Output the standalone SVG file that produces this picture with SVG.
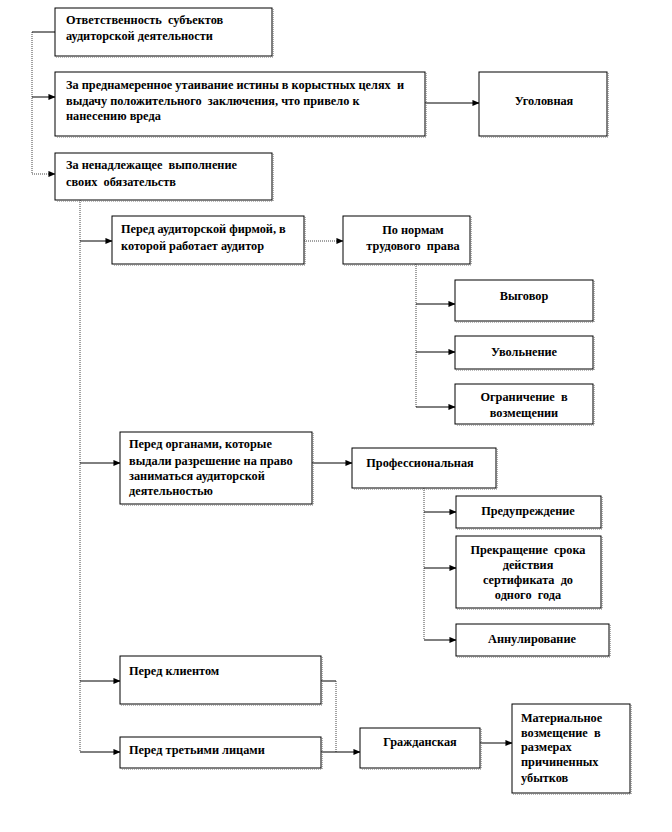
<svg xmlns="http://www.w3.org/2000/svg" width="672" height="832" viewBox="0 0 672 832">
<defs>
<marker id="ah" viewBox="0 0 8 8" refX="7.5" refY="4" markerWidth="7" markerHeight="7" markerUnits="userSpaceOnUse" orient="auto">
<path d="M0,0.5 L8,4 L0,7.5 Z" fill="#000"/>
</marker>
</defs>
<style>
.box{fill:#fff;stroke:#000;stroke-width:1}
.sh{fill:none;stroke:#777;stroke-width:1.2;stroke-dasharray:1,1}
.t{font-family:"Liberation Serif","Times New Roman",serif;font-weight:bold;font-size:12.3px;fill:#000;white-space:pre}
.c{text-anchor:middle}
.sol{fill:none;stroke:#000;stroke-width:1}
.dot{fill:none;stroke:#444;stroke-width:1;stroke-dasharray:1,1}
</style>
<rect width="672" height="832" fill="#fff"/>

<g id="connectors">
<path class="dot" d="M32,32 V174"/>
<path class="sol" d="M55,32 H32"/>
<path class="sol" d="M32,97 H55" marker-end="url(#ah)"/>
<path class="dot" d="M32,174 H55" marker-end="url(#ah)"/>
<path class="sol" d="M425,103 H479" marker-end="url(#ah)"/>

<path class="dot" d="M80,200 V752"/>
<path class="sol" d="M80,241 H112" marker-end="url(#ah)"/>
<path class="dot" d="M304,241 H343" marker-end="url(#ah)"/>
<path class="dot" d="M416,264 V407"/>
<path class="sol" d="M416,304 H455" marker-end="url(#ah)"/>
<path class="sol" d="M416,352 H455" marker-end="url(#ah)"/>
<path class="sol" d="M416,407 H455" marker-end="url(#ah)"/>

<path class="sol" d="M80,463 H120" marker-end="url(#ah)"/>
<path class="sol" d="M312,463 H352" marker-end="url(#ah)"/>
<path class="dot" d="M424,488 V640"/>
<path class="sol" d="M424,512 H456" marker-end="url(#ah)"/>
<path class="sol" d="M424,568 H456" marker-end="url(#ah)"/>
<path class="sol" d="M424,640 H456" marker-end="url(#ah)"/>

<path class="sol" d="M80,681 H120" marker-end="url(#ah)"/>
<path class="sol" d="M80,752 H120" marker-end="url(#ah)"/>
<path class="sol" d="M321,681 H336"/>
<path class="dot" d="M336,681 V752"/>
<path class="sol" d="M321,752 H360" marker-end="url(#ah)"/>
<path class="sol" d="M480,743 H512" marker-end="url(#ah)"/>
</g>

<g id="n1"><rect class="box" x="55" y="8" width="217" height="48"/><path class="sh" d="M273,9 V57 H56"/>
<text class="t" x="66" y="24">Ответственность  субъектов</text><text class="t" x="66" y="40">аудиторской деятельности</text></g>

<g id="n2"><rect class="box" x="55" y="72" width="370" height="64"/><path class="sh" d="M426,73 V137 H56"/>
<text class="t" x="66" y="89">За преднамеренное утаивание истины в корыстных целях  и</text>
<text class="t" x="66" y="105">выдачу положительного  заключения, что привело к</text>
<text class="t" x="66" y="120">нанесению вреда</text></g>

<g id="n3"><rect class="box" x="479" y="72" width="128" height="64"/><path class="sh" d="M608,73 V137 H480"/>
<text class="t c" x="544" y="105">Уголовная</text></g>

<g id="n4"><rect class="box" x="55" y="153" width="217" height="47"/><path class="sh" d="M273,154 V201 H56"/>
<text class="t" x="66" y="169">За ненадлежащее  выполнение</text><text class="t" x="66" y="186">своих  обязательств</text></g>

<g id="n5"><rect class="box" x="112" y="216" width="192" height="48"/><path class="sh" d="M305,217 V265 H113"/>
<text class="t" x="121" y="233">Перед аудиторской фирмой, в</text><text class="t" x="121" y="250">которой работает аудитор</text></g>

<g id="n6"><rect class="box" x="343" y="216" width="127" height="48"/><path class="sh" d="M471,217 V265 H344"/>
<text class="t c" x="413" y="234">По нормам</text><text class="t c" x="413" y="250">трудового  права</text></g>

<g id="n7"><rect class="box" x="455" y="280" width="138" height="41"/><path class="sh" d="M594,281 V322 H456"/>
<text class="t c" x="524" y="300">Выговор</text></g>

<g id="n8"><rect class="box" x="455" y="336" width="138" height="33"/><path class="sh" d="M594,337 V370 H456"/>
<text class="t c" x="524" y="356">Увольнение</text></g>

<g id="n9"><rect class="box" x="455" y="384" width="138" height="40"/><path class="sh" d="M594,385 V425 H456"/>
<text class="t c" x="524" y="401">Ограничение  в</text><text class="t c" x="524" y="417">возмещении</text></g>

<g id="n10"><rect class="box" x="120" y="432" width="192" height="72"/><path class="sh" d="M313,433 V505 H121"/>
<text class="t" x="129" y="448">Перед органами, которые</text>
<text class="t" x="129" y="465">выдали разрешение на право</text>
<text class="t" x="129" y="480">заниматься аудиторской</text>
<text class="t" x="129" y="495">деятельностью</text></g>

<g id="n11"><rect class="box" x="352" y="448" width="144" height="40"/><path class="sh" d="M497,449 V489 H353"/>
<text class="t c" x="420" y="467">Профессиональная</text></g>

<g id="n12"><rect class="box" x="456" y="496" width="145" height="32"/><path class="sh" d="M602,497 V529 H457"/>
<text class="t c" x="528" y="515">Предупреждение</text></g>

<g id="n13"><rect class="box" x="456" y="536" width="145" height="72"/><path class="sh" d="M602,537 V609 H457"/>
<text class="t c" x="528" y="554">Прекращение  срока</text>
<text class="t c" x="528" y="569">действия</text>
<text class="t c" x="528" y="584">сертификата  до</text>
<text class="t c" x="528" y="599">одного  года</text></g>

<g id="n14"><rect class="box" x="456" y="624" width="153" height="32"/><path class="sh" d="M610,625 V657 H457"/>
<text class="t c" x="532" y="643">Аннулирование</text></g>

<g id="n15"><rect class="box" x="120" y="656" width="201" height="48"/><path class="sh" d="M322,657 V705 H121"/>
<text class="t" x="129" y="675">Перед клиентом</text></g>

<g id="n16"><rect class="box" x="120" y="737" width="201" height="31"/><path class="sh" d="M322,738 V769 H121"/>
<text class="t" x="129" y="754">Перед третьими лицами</text></g>

<g id="n17"><rect class="box" x="360" y="728" width="120" height="40"/><path class="sh" d="M481,729 V769 H361"/>
<text class="t c" x="420" y="746">Гражданская</text></g>

<g id="n18"><rect class="box" x="512" y="704" width="118" height="89"/><path class="sh" d="M631,705 V794 H513"/>
<text class="t" x="521" y="722">Материальное</text>
<text class="t" x="521" y="737">возмещение  в</text>
<text class="t" x="521" y="751">размерах</text>
<text class="t" x="521" y="766">причиненных</text>
<text class="t" x="521" y="782">убытков</text></g>
</svg>
